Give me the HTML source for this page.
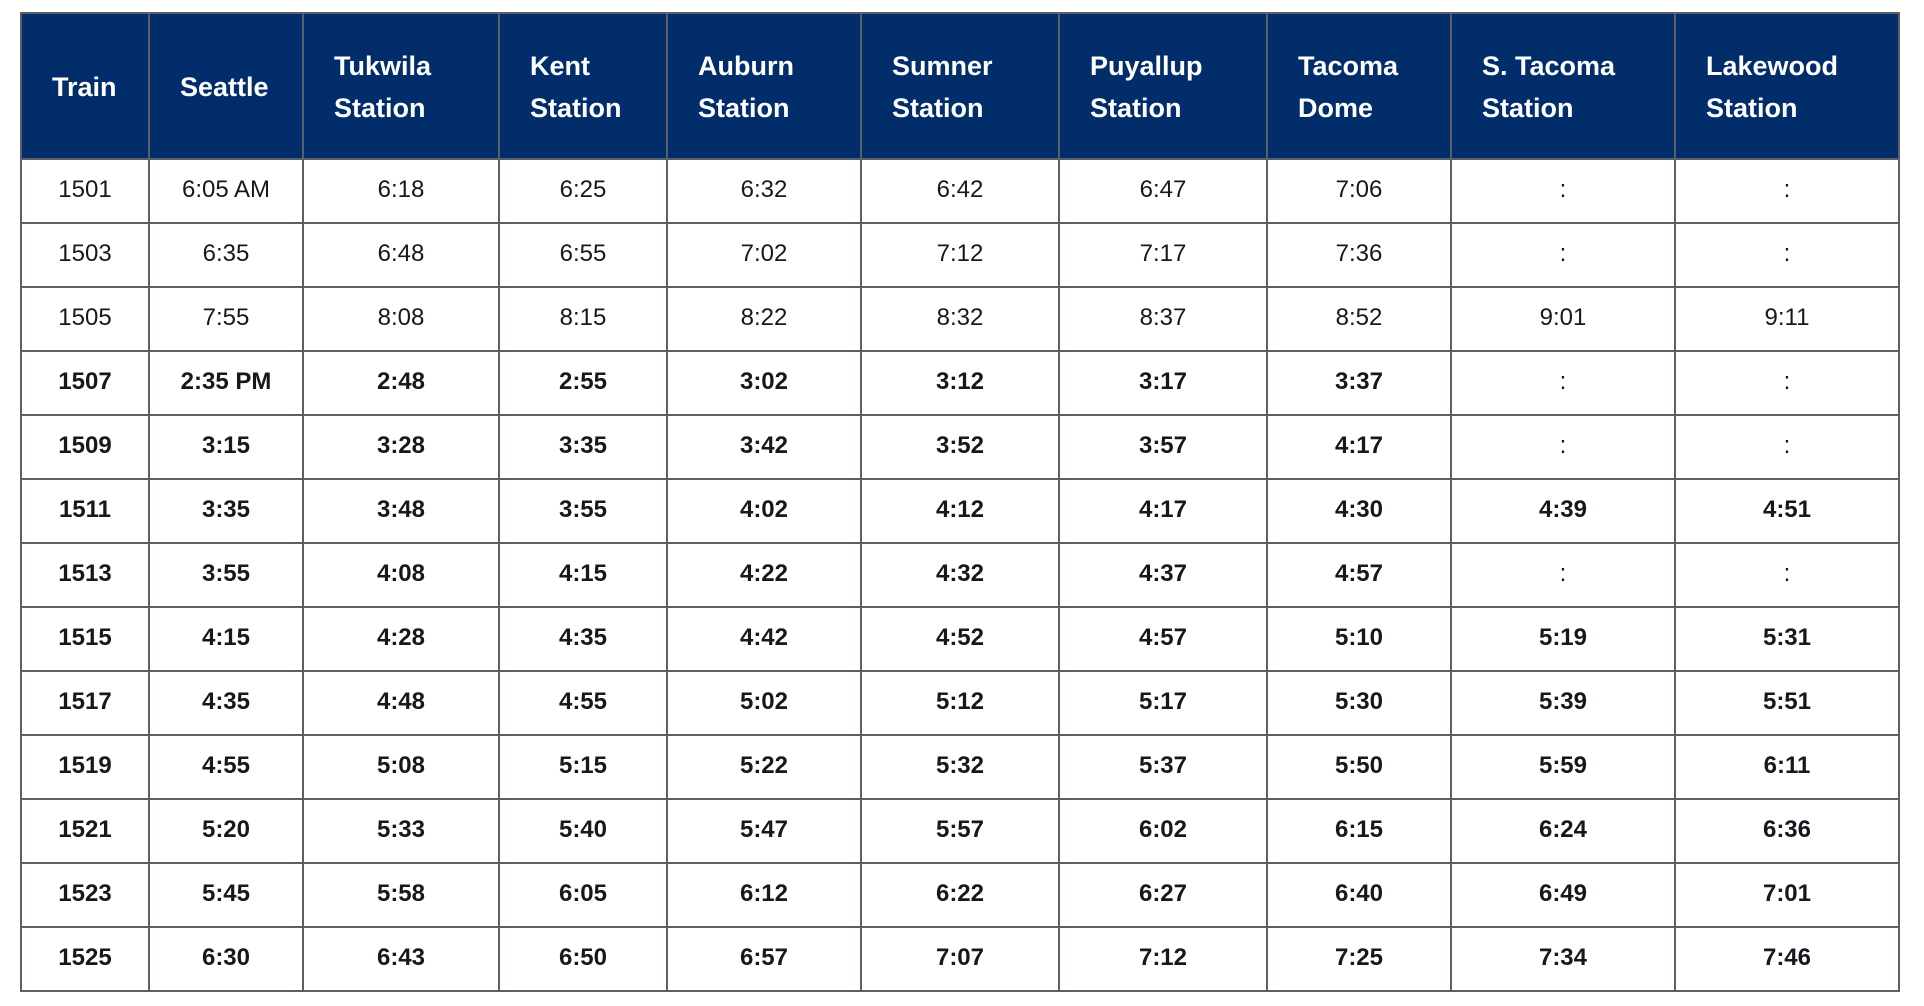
<!DOCTYPE html>
<html>
<head>
<meta charset="utf-8">
<style>
  html, body { margin: 0; padding: 0; background: #ffffff; }
  body { width: 1924px; height: 1006px; position: relative; overflow: hidden;
         font-family: "Liberation Sans", Arial, sans-serif; }
  .grid {
    position: absolute; left: 20px; top: 12px;
    width: 1880px; height: 980px; box-sizing: border-box;
    background: #5b6068; padding: 2px;
    display: grid; gap: 2px;
    grid-template-columns: 126px 152px 194px 166px 192px 196px 206px 182px 222px 222px;
    grid-template-rows: 144px repeat(13, 62px);
  }
  .h {
    background: #022d6b; color: #ffffff; font-weight: bold; font-size: 27px;
    line-height: 42px; display: flex; align-items: center;
    padding-left: 30px; padding-top: 2px; box-sizing: border-box;
  }
  .c {
    background: #ffffff; color: #15181c; font-size: 24px;
    display: flex; align-items: center; justify-content: center;
    padding-bottom: 2px; box-sizing: border-box;
  }
  .b { font-weight: bold; }
</style>
</head>
<body>
<div class="grid">
  <div class="h">Train</div>
  <div class="h">Seattle</div>
  <div class="h">Tukwila<br>Station</div>
  <div class="h">Kent<br>Station</div>
  <div class="h">Auburn<br>Station</div>
  <div class="h">Sumner<br>Station</div>
  <div class="h">Puyallup<br>Station</div>
  <div class="h">Tacoma<br>Dome</div>
  <div class="h">S. Tacoma<br>Station</div>
  <div class="h">Lakewood<br>Station</div>

  <div class="c">1501</div><div class="c">6:05 AM</div><div class="c">6:18</div><div class="c">6:25</div><div class="c">6:32</div><div class="c">6:42</div><div class="c">6:47</div><div class="c">7:06</div><div class="c">:</div><div class="c">:</div>

  <div class="c">1503</div><div class="c">6:35</div><div class="c">6:48</div><div class="c">6:55</div><div class="c">7:02</div><div class="c">7:12</div><div class="c">7:17</div><div class="c">7:36</div><div class="c">:</div><div class="c">:</div>

  <div class="c">1505</div><div class="c">7:55</div><div class="c">8:08</div><div class="c">8:15</div><div class="c">8:22</div><div class="c">8:32</div><div class="c">8:37</div><div class="c">8:52</div><div class="c">9:01</div><div class="c">9:11</div>

  <div class="c b">1507</div><div class="c b">2:35 PM</div><div class="c b">2:48</div><div class="c b">2:55</div><div class="c b">3:02</div><div class="c b">3:12</div><div class="c b">3:17</div><div class="c b">3:37</div><div class="c">:</div><div class="c">:</div>

  <div class="c b">1509</div><div class="c b">3:15</div><div class="c b">3:28</div><div class="c b">3:35</div><div class="c b">3:42</div><div class="c b">3:52</div><div class="c b">3:57</div><div class="c b">4:17</div><div class="c">:</div><div class="c">:</div>

  <div class="c b">1511</div><div class="c b">3:35</div><div class="c b">3:48</div><div class="c b">3:55</div><div class="c b">4:02</div><div class="c b">4:12</div><div class="c b">4:17</div><div class="c b">4:30</div><div class="c b">4:39</div><div class="c b">4:51</div>

  <div class="c b">1513</div><div class="c b">3:55</div><div class="c b">4:08</div><div class="c b">4:15</div><div class="c b">4:22</div><div class="c b">4:32</div><div class="c b">4:37</div><div class="c b">4:57</div><div class="c">:</div><div class="c">:</div>

  <div class="c b">1515</div><div class="c b">4:15</div><div class="c b">4:28</div><div class="c b">4:35</div><div class="c b">4:42</div><div class="c b">4:52</div><div class="c b">4:57</div><div class="c b">5:10</div><div class="c b">5:19</div><div class="c b">5:31</div>

  <div class="c b">1517</div><div class="c b">4:35</div><div class="c b">4:48</div><div class="c b">4:55</div><div class="c b">5:02</div><div class="c b">5:12</div><div class="c b">5:17</div><div class="c b">5:30</div><div class="c b">5:39</div><div class="c b">5:51</div>

  <div class="c b">1519</div><div class="c b">4:55</div><div class="c b">5:08</div><div class="c b">5:15</div><div class="c b">5:22</div><div class="c b">5:32</div><div class="c b">5:37</div><div class="c b">5:50</div><div class="c b">5:59</div><div class="c b">6:11</div>

  <div class="c b">1521</div><div class="c b">5:20</div><div class="c b">5:33</div><div class="c b">5:40</div><div class="c b">5:47</div><div class="c b">5:57</div><div class="c b">6:02</div><div class="c b">6:15</div><div class="c b">6:24</div><div class="c b">6:36</div>

  <div class="c b">1523</div><div class="c b">5:45</div><div class="c b">5:58</div><div class="c b">6:05</div><div class="c b">6:12</div><div class="c b">6:22</div><div class="c b">6:27</div><div class="c b">6:40</div><div class="c b">6:49</div><div class="c b">7:01</div>

  <div class="c b">1525</div><div class="c b">6:30</div><div class="c b">6:43</div><div class="c b">6:50</div><div class="c b">6:57</div><div class="c b">7:07</div><div class="c b">7:12</div><div class="c b">7:25</div><div class="c b">7:34</div><div class="c b">7:46</div>
</div>
</body>
</html>
